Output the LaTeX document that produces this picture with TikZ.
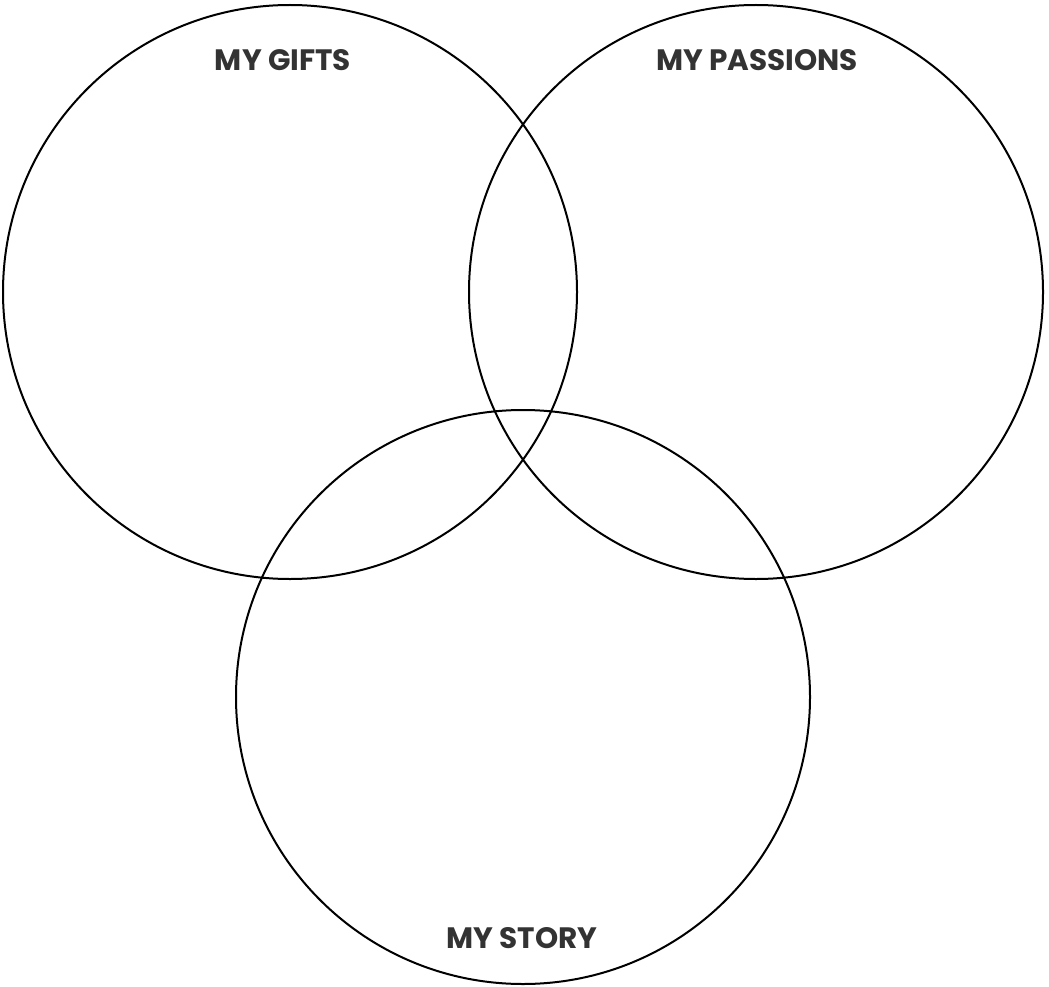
\documentclass[tikz,border=0pt]{standalone}
\usepackage{fontspec}
\setmainfont{Poppins}[BoldFont={* Bold}]
\begin{document}
\begin{tikzpicture}[x=1pt,y=-1pt,
  ring/.style={draw=black,line width=2pt},
  label/.style={font=\fontsize{29.5}{29.5}\selectfont\bfseries,text=black!80,inner sep=0pt,anchor=base}]
\useasboundingbox (0,0) rectangle (1049,987);
\draw[ring] (290,292) circle[radius=287];
\draw[ring] (756,292) circle[radius=287];
\draw[ring] (523,697) circle[radius=287];
\node[label] (gifts) at (283,71) {MY GIFTS};
\node[label] (passions) at (757,71) {MY PASSIONS};
\node[label] (story) at (522,948) {MY STORY};
\end{tikzpicture}
\end{document}
